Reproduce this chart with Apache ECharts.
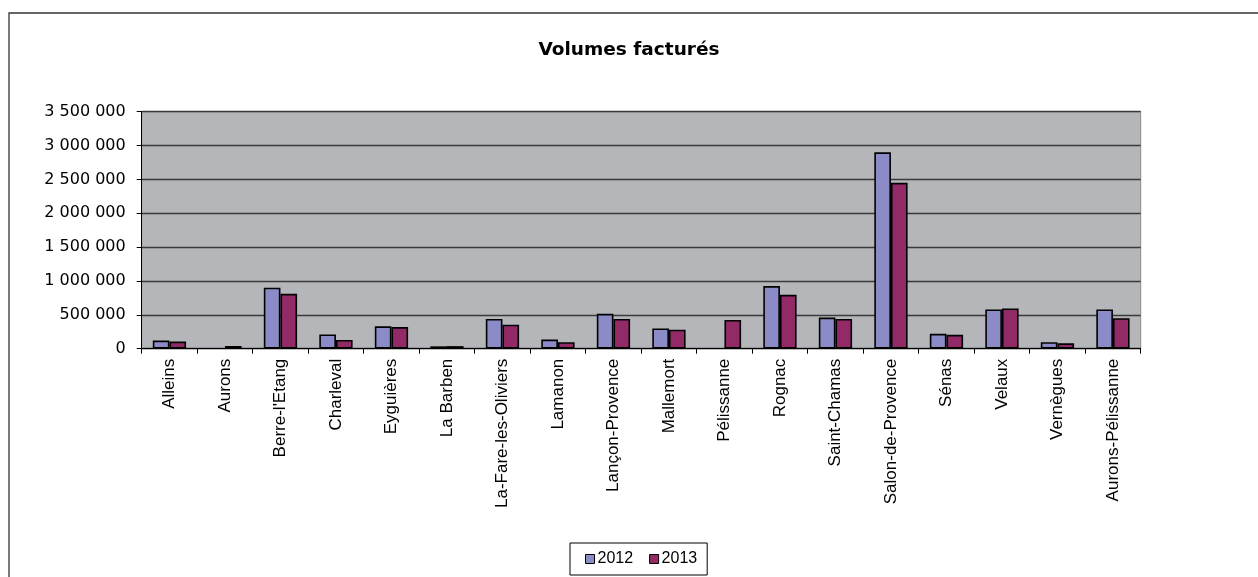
<!DOCTYPE html>
<html>
<head>
<meta charset="utf-8">
<script src="https://cdn.jsdelivr.net/npm/echarts@6/dist/echarts.min.js"></script>
<style>
  html, body { margin: 0; padding: 0; background: #fff; }
  #chart { width: 1258px; height: 577px; }
</style>
</head>
<body>
<div id="chart"></div>
<script>
const categories = ["Alleins", "Aurons", "Berre-l'Etang", "Charleval", "Eyguières", "La Barben",
  "La-Fare-les-Oliviers", "Lamanon", "Lançon-Provence", "Mallemort", "Pélissanne", "Rognac",
  "Saint-Chamas", "Salon-de-Provence", "Sénas", "Velaux", "Vernègues", "Aurons-Pélissanne"];
const values2012 = [120000, null, 900000, 210000, 330000, 35000, 440000, 135000, 515000, 300000,
  null, 925000, 460000, 2900000, 220000, 580000, 95000, 580000];
const values2013 = [105000, 40000, 810000, 130000, 320000, 38000, 355000, 95000, 440000, 280000,
  425000, 795000, 440000, 2450000, 205000, 595000, 80000, 450000];
const seriesNames = ["2012", "2013"];
const titleText = "Volumes facturés";

function fmt(v) {
  return String(v).replace(/\B(?=(\d{3})+(?!\d))/g, ' ');
}

const chart = echarts.init(document.getElementById('chart'), null, { renderer: 'canvas' });
chart.setOption({
  animation: false,
  backgroundColor: '#ffffff',
  graphic: [{
    type: 'rect',
    shape: { x: 9, y: 13, width: 1300, height: 700 },
    style: { fill: 'none', stroke: '#333', lineWidth: 1.3 },
    silent: true,
    z: 0
  }],
  title: {
    text: titleText,
    left: 'center',
    top: 36,
    textStyle: { fontFamily: 'DejaVu Sans', fontWeight: 'bold', fontSize: 18.5, color: '#000' }
  },
  legend: {
    data: seriesNames,
    left: 570,
    top: 543,
    orient: 'horizontal',
    padding: [8, 10, 8, 15],
    itemGap: 16,
    itemWidth: 9,
    itemHeight: 9,
    icon: 'rect',
    borderColor: '#000',
    borderWidth: 1,
    backgroundColor: '#fff',
    itemStyle: { borderColor: '#000', borderWidth: 1 },
    textStyle: { fontFamily: 'Liberation Sans, Arial', fontSize: 16, color: '#000', padding: [0, 0, 0, -2] }
  },
  grid: {
    left: 141.7,
    right: 117.3,
    top: 111.7,
    bottom: 228.3,
    show: true,
    backgroundColor: '#B5B6BA',
    borderColor: '#8a8a8a',
    borderWidth: 1,
    containLabel: false
  },
  xAxis: {
    type: 'category',
    data: categories,
    boundaryGap: true,
    axisLine: { show: true, lineStyle: { color: '#000', width: 1 } },
    axisTick: { show: true, alignWithLabel: false, length: 5, lineStyle: { color: '#000' } },
    axisLabel: {
      rotate: 90,
      interval: 0,
      margin: 10,
      fontFamily: 'Liberation Sans, Arial',
      fontSize: 17,
      color: '#000'
    },
    splitLine: { show: false }
  },
  yAxis: {
    type: 'value',
    min: 0,
    max: 3500000,
    interval: 500000,
    axisLine: { show: true, lineStyle: { color: '#000', width: 1 } },
    axisTick: { show: true, length: 5, lineStyle: { color: '#000' } },
    axisLabel: {
      margin: 16,
      fontFamily: 'DejaVu Sans',
      fontSize: 16,
      color: '#000',
      formatter: fmt
    },
    splitLine: { show: true, lineStyle: { color: '#3a3a3a', width: 1.3 } }
  },
  series: [
    {
      name: seriesNames[0],
      type: 'bar',
      data: values2012,
      barGap: '0%',
      barCategoryGap: '40%',
      itemStyle: { color: '#8B8CC7', borderColor: '#000', borderWidth: 1.6 }
    },
    {
      name: seriesNames[1],
      type: 'bar',
      data: values2013,
      barGap: '0%',
      barCategoryGap: '40%',
      itemStyle: { color: '#922A67', borderColor: '#000', borderWidth: 1.6 }
    }
  ]
});
</script>
</body>
</html>
